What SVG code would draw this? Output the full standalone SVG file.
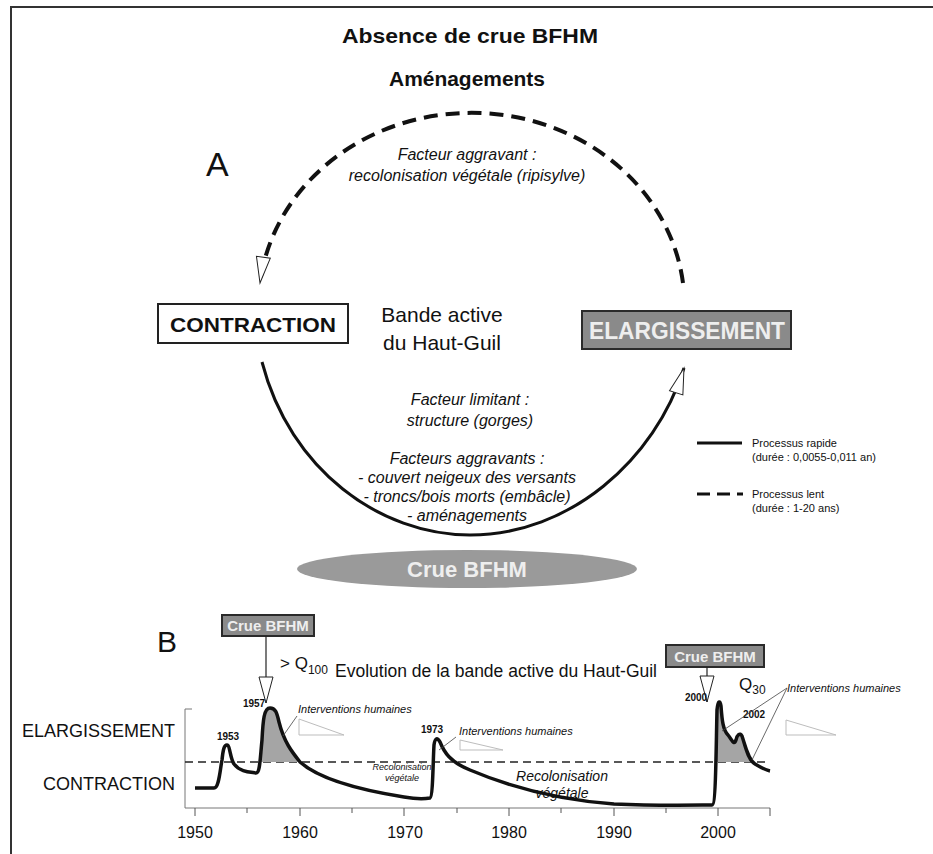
<svg xmlns="http://www.w3.org/2000/svg" width="933" height="854" viewBox="0 0 933 854">
<style>
text{font-family:"Liberation Sans",Arial,sans-serif;fill:#111}
.h{font-weight:bold;font-size:21px;text-anchor:middle}
.it{font-style:italic;font-size:16px;text-anchor:middle}
.leg{font-size:11px}
.yr{font-size:16px;text-anchor:middle}
.sm{font-size:10px;font-weight:bold;text-anchor:middle}
.ih{font-style:italic;font-size:11px}
.wt{fill:#eeeeee;font-weight:bold;text-anchor:middle}
.gbox{fill:#8a8a8a;stroke:#2a2a2a;stroke-width:2}
.tri{fill:none;stroke:#bdbdbd;stroke-width:1}
.lead{stroke:#444;stroke-width:0.8;fill:none}
</style>
<defs>
<marker id="oa" markerUnits="userSpaceOnUse" markerWidth="30" markerHeight="20" refX="26" refY="7" orient="auto" overflow="visible">
<path d="M0,0 L26,7 L0,14 Z" fill="#fff" stroke="#222" stroke-width="1"/>
</marker>
</defs>
<path d="M11,854 L11,7 L933,7" fill="none" stroke="#333" stroke-width="2"/>
<text class="h" x="470" y="43" font-size="25" textLength="256" lengthAdjust="spacingAndGlyphs">Absence de crue BFHM</text>
<text class="h" x="467" y="86" font-size="24" textLength="156" lengthAdjust="spacingAndGlyphs">Aménagements</text>
<text x="206" y="176" font-size="34">A</text>
<g id="connectors">
<path d="M683,283 A213,193 0 0 0 260,283" fill="none" stroke="#111" stroke-width="4" stroke-dasharray="14 8" marker-end="url(#oa)"/>
<path d="M262,362 C290,470 380,535 470,535 C570,535 655,460 684,368" fill="none" stroke="#111" stroke-width="3" marker-end="url(#oa)"/>
</g>
<text class="it" x="467" y="160">Facteur aggravant :</text>
<text class="it" x="467" y="181">recolonisation végétale (ripisylve)</text>
<g id="contraction">
<rect x="158" y="304" width="190" height="39" fill="#fff" stroke="#222" stroke-width="2"/>
<text class="h" x="253" y="332" font-size="22" textLength="166" lengthAdjust="spacingAndGlyphs">CONTRACTION</text>
</g>
<g id="bande">
<text x="442" y="322" font-size="21" text-anchor="middle">Bande active</text>
<text x="442" y="350" font-size="21" text-anchor="middle">du Haut-Guil</text>
</g>
<g id="elargissement">
<rect class="gbox" x="582" y="311" width="209" height="38"/>
<text class="wt" x="687" y="339" font-size="23" textLength="196" lengthAdjust="spacingAndGlyphs">ELARGISSEMENT</text>
</g>
<text class="it" x="470" y="405">Facteur limitant :</text>
<text class="it" x="470" y="426">structure (gorges)</text>
<text class="it" x="467" y="464" font-size="17">Facteurs aggravants :</text>
<text class="it" x="467" y="483" font-size="17">- couvert neigeux des versants</text>
<text class="it" x="467" y="502" font-size="17">- troncs/bois morts (embâcle)</text>
<text class="it" x="467" y="521" font-size="17">- aménagements</text>
<g id="crue">
<ellipse cx="467" cy="569" rx="170" ry="19" fill="#9a9a9a"/>
<text class="wt" x="467" y="577" font-size="22">Crue BFHM</text>
</g>
<g id="legend">
<line x1="697" y1="443" x2="742" y2="443" stroke="#111" stroke-width="3"/>
<text class="leg" x="752" y="447">Processus rapide</text>
<text class="leg" x="752" y="461">(durée : 0,0055-0,011 an)</text>
<line x1="697" y1="494" x2="743" y2="494" stroke="#111" stroke-width="3" stroke-dasharray="13 7"/>
<text class="leg" x="752" y="498">Processus lent</text>
<text class="leg" x="752" y="512">(durée : 1-20 ans)</text>
</g>
<text x="157" y="652" font-size="30">B</text>
<g id="crue1957">
<rect class="gbox" x="222" y="615" width="92" height="21"/>
<text class="wt" x="268" y="631" font-size="15" font-weight="normal">Crue BFHM</text>
<line x1="266" y1="636" x2="266" y2="703" stroke="#222" stroke-width="1.2" marker-end="url(#oa)"/>
</g>
<text x="280" y="669" font-size="17">&gt; Q<tspan font-size="12" dy="5">100</tspan></text>
<text x="335" y="677" font-size="17.5">Evolution de la bande active du Haut-Guil</text>
<g id="crue2000">
<rect class="gbox" x="666" y="645" width="98" height="22"/>
<text class="wt" x="715" y="662" font-size="15" font-weight="normal">Crue BFHM</text>
<line x1="707" y1="667" x2="707" y2="702" stroke="#222" stroke-width="1.2" marker-end="url(#oa)"/>
</g>
<text x="739" y="690" font-size="17">Q<tspan font-size="12" dy="4">30</tspan></text>
<g id="chart">
<text x="175" y="737" font-size="18" text-anchor="end">ELARGISSEMENT</text>
<text x="175" y="790" font-size="18" text-anchor="end">CONTRACTION</text>
<path d="M192,709 L185,709 L185,808 L770,808" fill="none" stroke="#777" stroke-width="1"/>
<path d="M195,808 v8 M247,808 v5 M300,808 v8 M352,808 v5 M404,808 v8 M457,808 v5 M509,808 v8 M561,808 v5 M614,808 v8 M666,808 v5 M718,808 v8 M770,808 v8" stroke="#555" stroke-width="1"/>
<text class="yr" x="195" y="838">1950</text>
<text class="yr" x="300" y="838">1960</text>
<text class="yr" x="405" y="838">1970</text>
<text class="yr" x="509" y="838">1980</text>
<text class="yr" x="614" y="838">1990</text>
<text class="yr" x="718" y="838">2000</text>
<line x1="185" y1="762" x2="770" y2="762" stroke="#222" stroke-width="1.5" stroke-dasharray="8 5"/>
<path d="M261,762 L262,740 C263,720 264,708 270,708 C276,708 277,714 279,722 C284,742 292,752 300,762 Z" fill="#a5a5a5"/>
<path d="M716,762 L717,710 C718,700 720,700 721,706 C722,720 723,730 728,735 C732,740 734,746 736,740 C737,735 740,732 742,736 C745,745 748,757 752,762 Z" fill="#a5a5a5"/>
<path d="M195,788 L214,788 C219,788 220,770 222,760 C223,750 224,745 227,745 C230,745 230,758 234,764 C240,772 250,772 256,773 C260,773 260,760 262,740 C263,720 264,708 270,708 C276,708 277,714 279,722 C284,742 292,752 300,762 C320,780 360,790 404,797 C415,799 425,799 430,798 C433,797 433,760 434,745 C435,738 437,737 440,742 C444,752 450,762 470,770 C510,787 560,800 614,804 C660,806 700,805 712,805 C716,805 716,750 717,710 C718,700 720,700 721,706 C722,720 723,730 728,735 C732,740 734,746 736,740 C737,735 740,732 742,736 C745,745 748,760 755,764 C760,767 765,770 770,771" fill="none" stroke="#111" stroke-width="3.5" stroke-linejoin="round"/>
<text class="sm" x="228" y="740">1953</text>
<text class="sm" x="254" y="707">1957</text>
<text class="sm" x="432" y="733">1973</text>
<text class="sm" x="696" y="701">2000</text>
<text class="sm" x="754" y="718">2002</text>
<text class="ih" x="298" y="713">Interventions humaines</text>
<path class="lead" d="M283,736 L297,716"/>
<path class="tri" d="M299,719 L299,735 L344,735 Z"/>
<text class="ih" x="459" y="735">Interventions humaines</text>
<path class="lead" d="M439,750 L456,737"/>
<path class="tri" d="M460,740 L460,750 L503,750 Z"/>
<text class="ih" x="787" y="692">Interventions humaines</text>
<path class="lead" d="M787,688 L722,731 M787,688 L752,760"/>
<path class="tri" d="M786,720 L786,735 L836,735 Z"/>
<text x="402" y="770" font-size="9" font-style="italic" text-anchor="middle">Recolonisation</text>
<text x="402" y="781" font-size="9" font-style="italic" text-anchor="middle">végétale</text>
<text x="562" y="781" font-size="14" font-style="italic" text-anchor="middle">Recolonisation</text>
<text x="562" y="798" font-size="14" font-style="italic" text-anchor="middle">végétale</text>
</g>
</svg>
